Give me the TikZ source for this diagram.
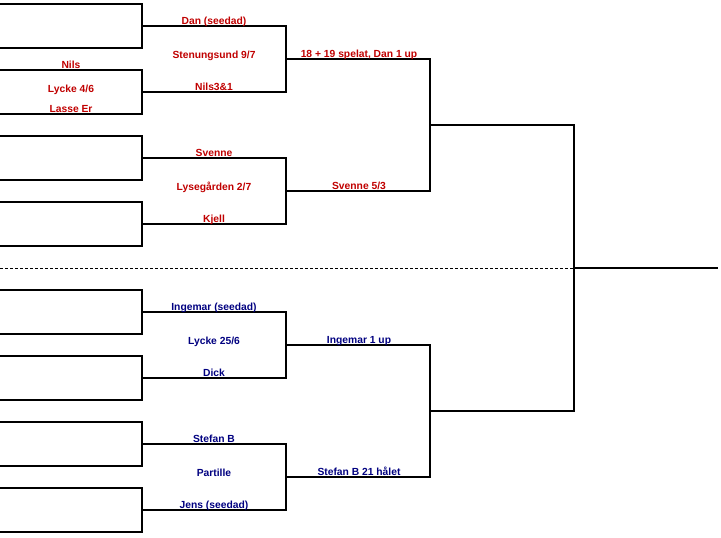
\documentclass[tikz,border=0pt]{standalone}
\usepackage{fontspec}
\setmainfont{Liberation Sans}
\definecolor{dred}{RGB}{192,0,0}
\definecolor{dblue}{RGB}{0,0,128}
\tikzstyle{hl}=[draw, line width=1.2pt]
\tikzstyle{vl}=[draw, line width=2pt, line cap=rect]
\tikzstyle{dl}=[draw, line width=1pt, dash pattern=on 3pt off 2pt]
\tikzstyle{tr}=[text=dred, font=\fontsize{10.3}{12}\selectfont\bfseries,
		anchor=base, inner sep=0]
\tikzstyle{tb}=[tr, text=dblue]

\begin{document}
\begin{tikzpicture}[x=1pt, y=-1pt]
                \useasboundingbox (0,0) rectangle (721,538);
                \coordinate (o) at (0,0);
                \foreach \y [count=\i] in {4,48,70,114,136,180,202,246,290,334,356,400,422,466,488,532}
                    \coordinate (a\i) at (142,\y);
                \foreach \y [count=\i] in {26,92,158,224,312,378,444,510}
                    \coordinate (b\i) at (286,\y);
                \foreach \y [count=\i] in {59,191,345,477}
                    \coordinate (c\i) at (430,\y);
                \foreach \y [count=\i] in {125,411}
                    \coordinate (d\i) at (574,\y);
                \coordinate (e1) at (718,268);

                \draw[dl] (o |- e1) -- (d1 |- e1);
                \foreach \i in {1,...,16}
                    \draw[hl] (o |- a\i) -- (a\i);
                \foreach \p/\q/\m in {a1/a2/b1, a3/a4/b2, a5/a6/b3, a7/a8/b4,
                        a9/a10/b5, a11/a12/b6, a13/a14/b7, a15/a16/b8,
                        b1/b2/c1, b3/b4/c2, b5/b6/c3, b7/b8/c4,
                        c1/c2/d1, c3/c4/d2, d1/d2/e1} {
                    \draw[hl] (\p |- \m) -- (\m);
                    \draw[vl] (\p) -- (\q);
                }

                % upper half
                \node[tr] (nils) at (71,68) {Nils};
                \node[tr] (lycke) at (71,92) {Lycke 4/6};
                \node[tr] (lasse) at (71,112.5) {Lasse Er};
                \node[tr] (dan) at (214,24.5) {Dan (seedad)};
                \node[tr] (sten) at (214,58.5) {Stenungsund 9/7};
                \node[tr] (nils31) at (214,90.5) {Nils3\&1};
                \node[tr] (svenne) at (214,156.5) {Svenne};
                \node[tr] (lyse) at (214,190.5) {Lysegården 2/7};
                \node[tr] (kjell) at (214,222.5) {Kjell};
                \node[tr] (semi1) at (359,57.5) {18 + 19 spelat, Dan 1 up};
                \node[tr] (semi2) at (359,189.5) {Svenne 5/3};
                % lower half
                \node[tb] (ingemar) at (214,310.5) {Ingemar (seedad)};
                \node[tb] (lycke2) at (214,344.5) {Lycke 25/6};
                \node[tb] (dick) at (214,376.5) {Dick};
                \node[tb] (stefan) at (214,442.5) {Stefan B};
                \node[tb] (partille) at (214,476.5) {Partille};
                \node[tb] (jens) at (214,508.5) {Jens (seedad)};
                \node[tb] (semi3) at (359,343.5) {Ingemar 1 up};
                \node[tb] (semi4) at (359,475.5) {Stefan B 21 hålet};
            \end{tikzpicture}
\end{document}
